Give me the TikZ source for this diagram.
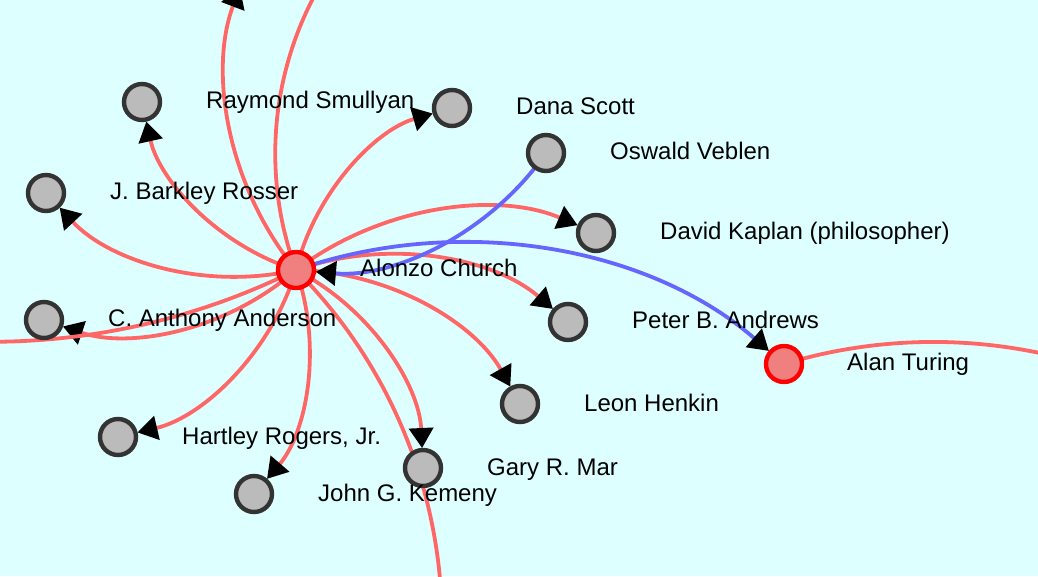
\documentclass[tikz,border=0pt]{standalone}
\usepackage{fontspec}
\setmainfont{Liberation Sans}
\usetikzlibrary{arrows.meta}
\pgfdeclarelayer{bglayer}
\pgfdeclarelayer{edgelayer}
\pgfsetlayers{bglayer,edgelayer,main}
\definecolor{bgc}{HTML}{DDFFFF}
\definecolor{redge}{HTML}{FF6666}
\definecolor{bedge}{HTML}{6666FF}
\definecolor{nodefill}{HTML}{BBBBBB}
\definecolor{nodeline}{HTML}{333333}
\definecolor{keyfill}{HTML}{F08080}
\begin{document}
\begin{tikzpicture}[x=1pt,y=1pt,
  person/.style={circle, draw=nodeline, fill=nodefill, line width=4.4pt, minimum size=36pt, inner sep=0pt},
  keyperson/.style={person, draw=red, fill=keyfill},
  lbl/.style={anchor=base west, inner sep=0pt, font=\fontsize{24}{28}\selectfont, text=black},
  link/.style={line width=3.8pt, draw=redge, bend left=30, looseness=0.913},
  blink/.style={link, draw=bedge},
  tip/.style={-{Triangle[length=20pt,width=24pt,color=black]}, shorten >=20pt},
]
\useasboundingbox (0,0) rectangle (1038,576);
\begin{pgfonlayer}{bglayer}
\fill[bgc] (0,0) rectangle (1038,576);
\end{pgfonlayer}

% nodes
\node[keyperson] (church) at (296,306) {};
\node[keyperson] (turing) at (784,212) {};
\node[person] (smullyan) at (142,474) {};
\node[person] (scott) at (452,468) {};
\node[person] (veblen) at (546,423) {};
\node[person] (rosser) at (46,383) {};
\node[person] (kaplan) at (596,343) {};
\node[person] (anderson) at (44,256) {};
\node[person] (andrews) at (568,254) {};
\node[person] (henkin) at (520,172) {};
\node[person] (rogers) at (118,139) {};
\node[person] (mar) at (423,108) {};
\node[person] (kemeny) at (254,82) {};

% off-picture ends
\coordinate (up1) at (247,607);
\coordinate (up2) at (353,638);
\coordinate (farleft) at (-388,348);
\coordinate (below) at (425,-176);
\coordinate (farright) at (1288,94);

% edges
\begin{pgfonlayer}{edgelayer}
\begin{scope}
\clip (0,0) rectangle (1038,576);
\draw[link,tip] (church.center) to (smullyan.center);
\draw[link,tip] (church.center) to (rosser.center);
\draw[link,tip] (church.center) to (scott.center);
\draw[link,tip] (church.center) to (up1);
\draw[link] (church.center) to (up2);
\draw[link,tip] (church.center) to (kaplan.center);
\draw[link,tip] (church.center) to (andrews.center);
\draw[link,tip] (church.center) to (henkin.center);
\draw[link,tip] (church.center) to (mar.center);
\draw[link] (church.center) to (below);
\draw[link,tip] (church.center) to (kemeny.center);
\draw[link,tip] (church.center) to (rogers.center);
\draw[link,tip] (church.center) to (anderson.center);
\draw[link] (church.center) to (farleft);
\draw[link] (turing.center) to (farright);
\draw[blink,tip] (veblen.center) to (church.center);
\draw[blink,tip] (church.center) to (turing.center);
\end{scope}
\end{pgfonlayer}

% labels
\node[lbl] (lchurch) at (360,299) {Alonzo Church};
\node[lbl] (lturing) at (847,205) {Alan Turing};
\node[lbl] (lsmullyan) at (206,467) {Raymond Smullyan};
\node[lbl] (lscott) at (516,461) {Dana Scott};
\node[lbl] (lveblen) at (610,416) {Oswald Veblen};
\node[lbl] (lrosser) at (110,376) {J. Barkley Rosser};
\node[lbl] (lkaplan) at (660,336) {David Kaplan (philosopher)};
\node[lbl] (landerson) at (108,249) {C. Anthony Anderson};
\node[lbl] (landrews) at (632,247) {Peter B. Andrews};
\node[lbl] (lhenkin) at (584,165) {Leon Henkin};
\node[lbl] (lrogers) at (182,132) {Hartley Rogers, Jr.};
\node[lbl] (lmar) at (487,101) {Gary R. Mar};
\node[lbl] (lkemeny) at (318,75) {John G. Kemeny};
\end{tikzpicture}
\end{document}
